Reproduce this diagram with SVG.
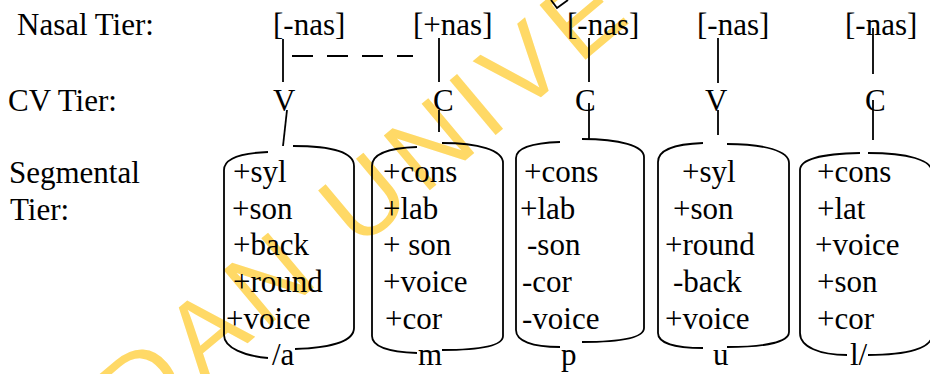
<svg xmlns="http://www.w3.org/2000/svg" width="930" height="374" viewBox="0 0 930 374">
<style>
  text { font-family: "Liberation Serif", "Times New Roman", serif; font-size: 31px; fill: #000; }
  .wm { font-family: "Liberation Sans", Arial, sans-serif; font-size: 104px; letter-spacing: 10px; fill: #FFD966; }
  .ln { stroke: #000; stroke-width: 1.8; fill: none; }
  .br { stroke: #000; stroke-width: 1.8; fill: none; }
  .dash { stroke-dasharray: 21 14; }
</style>
<rect width="930" height="374" fill="#fff"/>
<g id="watermark">
  <text class="wm" transform="translate(137,436) rotate(-40)">DAN UNIVE</text>
</g>
<g id="top-mark">
  <polyline class="ln" points="551,0 557,8 568,0"/>
</g>
<g id="labels">
  <text x="17" y="35">Nasal Tier:</text>
  <text x="8" y="111">CV Tier:</text>
  <text x="9" y="183">Segmental</text>
  <text x="10" y="220">Tier:</text>
</g>
<g id="nasal-1"><text x="273" y="35">[-nas]</text></g>
<g id="nasal-2"><text x="413" y="35">[+nas]</text></g>
<g id="nasal-3"><text x="567" y="35">[-nas]</text></g>
<g id="nasal-4"><text x="697" y="35">[-nas]</text></g>
<g id="nasal-5"><text x="845" y="35">[-nas]</text></g>
<g id="cv-1"><text x="273" y="111">V</text></g>
<g id="cv-2"><text x="433" y="111">C</text></g>
<g id="cv-3"><text x="575" y="111">C</text></g>
<g id="cv-4"><text x="705" y="111">V</text></g>
<g id="cv-5"><text x="865" y="111">C</text></g>
<g id="seg-a">
  <path class="br" d="M268,152 C240,153 224,158 224,170 L224,335 C224,348 245,356 268,358"/>
  <path class="br" d="M293,146 C330,146 354,152 354,166 L354,328 C354,342 328,348 295,349"/>
  <text x="233" y="182">+syl</text>
  <text x="232" y="218.5">+son</text>
  <text x="233" y="255">+back</text>
  <text x="233" y="292">+round</text>
  <text x="226" y="328.5">+voice</text>
  <text x="272" y="365">/a</text>
</g>
<g id="seg-m">
  <path class="br" d="M417,147 C388,148 372,154 372,166 L372,336 C372,347 390,352 417,353"/>
  <path class="br" d="M442,143 C478,143 503,150 503,163 L503,336 C503,346 478,350 442,350"/>
  <text x="383" y="182">+cons</text>
  <text x="383" y="218.5">+lab</text>
  <text x="383" y="255">+ son</text>
  <text x="383" y="292">+voice</text>
  <text x="385" y="328.5">+cor</text>
  <text x="418" y="365">m</text>
</g>
<g id="seg-p">
  <path class="br" d="M560,142 C532,143 516,148 516,158 L516,330 C516,341 532,347 560,347"/>
  <path class="br" d="M582,139 C620,139 644,146 644,157 L644,328 C644,338 620,342 582,342"/>
  <text x="524" y="182">+cons</text>
  <text x="520" y="218.5">+lab</text>
  <text x="527" y="255">-son</text>
  <text x="522" y="292">-cor</text>
  <text x="522" y="328.5">-voice</text>
  <text x="561" y="365">p</text>
</g>
<g id="seg-u">
  <path class="br" d="M703,143 C675,144 658,150 658,162 L658,333 C658,343 675,348 703,348"/>
  <path class="br" d="M727,144 C765,144 789,151 789,163 L789,332 C789,342 765,347 727,347"/>
  <text x="682" y="182">+syl</text>
  <text x="673" y="218.5">+son</text>
  <text x="665" y="255">+round</text>
  <text x="673" y="292">-back</text>
  <text x="665" y="328.5">+voice</text>
  <text x="713" y="365">u</text>
</g>
<g id="seg-l">
  <path class="br" d="M860,153 C820,154 800,159 800,170 L800,333 C800,347 820,355 847,355"/>
  <path class="br" d="M868,153 C908,153 932,160 932,172 L932,335 C932,348 908,355 868,355"/>
  <text x="817" y="182">+cons</text>
  <text x="817" y="218.5">+lat</text>
  <text x="815" y="255">+voice</text>
  <text x="817" y="292">+son</text>
  <text x="817" y="328.5">+cor</text>
  <text x="850" y="365">l/</text>
</g>
<g id="connectors">
  <line class="ln" x1="283" y1="39" x2="283" y2="82"/>
  <line class="ln dash" x1="292" y1="56" x2="413" y2="56"/>
  <line class="ln" x1="287" y1="110" x2="283" y2="146"/>
  <line class="ln" x1="439" y1="38" x2="439" y2="82"/>
  <line class="ln" x1="439" y1="110" x2="439" y2="132"/>
  <line class="ln" x1="589" y1="38" x2="589" y2="82"/>
  <line class="ln" x1="589" y1="103" x2="589" y2="139"/>
  <line class="ln" x1="718" y1="38" x2="718" y2="83"/>
  <line class="ln" x1="718" y1="110" x2="718" y2="135"/>
  <line class="ln" x1="873" y1="28" x2="873" y2="74"/>
  <line class="ln" x1="873" y1="100" x2="873" y2="140"/>
</g>
</svg>
